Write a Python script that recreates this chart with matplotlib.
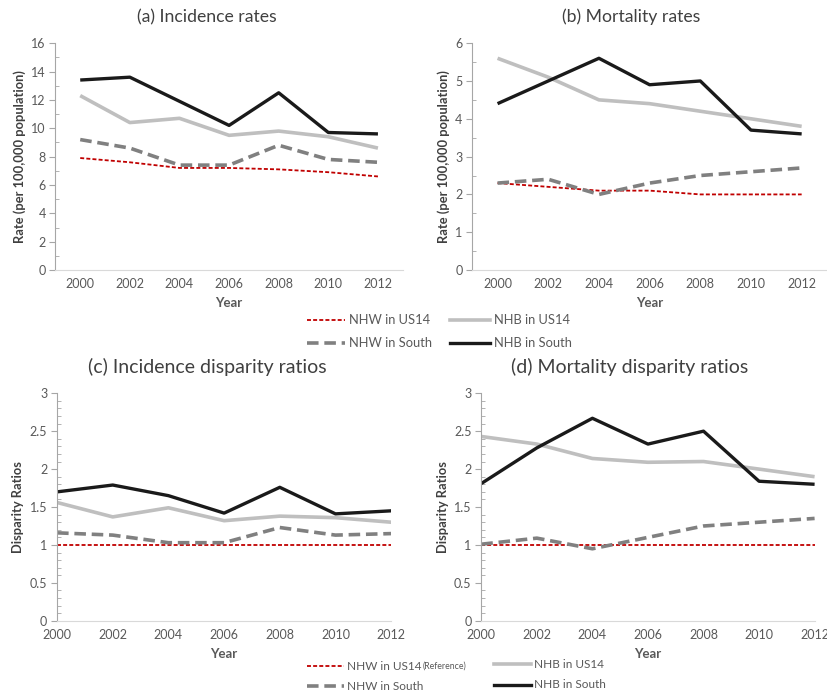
import numpy as np
import matplotlib.pyplot as plt
from matplotlib.lines import Line2D
from matplotlib.ticker import MultipleLocator

plt.rcParams['font.family'] = ['Lato', 'DejaVu Sans']

years = [2000, 2002, 2004, 2006, 2008, 2010, 2012]

# (a) incidence rates per 100,000
inc_nhw_us14 = [7.9, 7.6, 7.2, 7.2, 7.1, 6.9, 6.6]
inc_nhw_south = [9.2, 8.6, 7.4, 7.4, 8.8, 7.8, 7.6]
inc_nhb_us14 = [12.3, 10.4, 10.7, 9.5, 9.8, 9.4, 8.6]
inc_nhb_south = [13.4, 13.6, 11.9, 10.2, 12.5, 9.7, 9.6]

# (b) mortality rates per 100,000
mort_nhw_us14 = [2.3, 2.2, 2.1, 2.1, 2.0, 2.0, 2.0]
mort_nhw_south = [2.3, 2.4, 2.0, 2.3, 2.5, 2.6, 2.7]
mort_nhb_us14 = [5.6, 5.1, 4.5, 4.4, 4.2, 4.0, 3.8]
mort_nhb_south = [4.4, 5.0, 5.6, 4.9, 5.0, 3.7, 3.6]

# (c) incidence disparity ratios (NHW in US14 = reference)
idr_nhw_us14 = [1.0, 1.0, 1.0, 1.0, 1.0, 1.0, 1.0]
idr_nhw_south = [1.16, 1.13, 1.03, 1.03, 1.23, 1.13, 1.15]
idr_nhb_us14 = [1.56, 1.37, 1.49, 1.32, 1.38, 1.36, 1.30]
idr_nhb_south = [1.70, 1.79, 1.65, 1.42, 1.76, 1.41, 1.45]

# (d) mortality disparity ratios
mdr_nhw_us14 = [1.0, 1.0, 1.0, 1.0, 1.0, 1.0, 1.0]
mdr_nhw_south = [1.01, 1.09, 0.95, 1.10, 1.25, 1.30, 1.35]
mdr_nhb_us14 = [2.43, 2.33, 2.14, 2.09, 2.10, 2.00, 1.90]
mdr_nhb_south = [1.81, 2.28, 2.67, 2.33, 2.50, 1.84, 1.80]

RED = '#C00000'
DGRAY = '#808080'
LGRAY = '#BFBFBF'
BLACK = '#1a1a1a'
TXT = '#595959'

styles = [
    dict(color=RED, lw=1.3, ls=(0, (2.2, 1.2))),
    dict(color=DGRAY, lw=2.6, ls=(0, (3.2, 1.6))),
    dict(color=LGRAY, lw=2.6, ls='-'),
    dict(color=BLACK, lw=2.4, ls='-'),
]

W, H = 827, 696
fig = plt.figure(figsize=(W / 100, H / 100), dpi=100)


def panel(rect, title, title_xy, title_size, series, ymax, major, minor, ylabel, pad):
    ax = fig.add_axes(rect)
    for vals, st in zip(series, styles):
        ax.plot(years, vals, solid_capstyle='butt', dash_capstyle='butt', **st)
    ax.set_xlim(years[0] - pad, years[-1] + pad)
    ax.set_ylim(0, ymax)
    ax.set_xticks(years)
    ax.yaxis.set_major_locator(MultipleLocator(major))
    ax.yaxis.set_minor_locator(MultipleLocator(minor))
    ax.yaxis.set_major_formatter(lambda v, p: f'{v:g}')
    for s in ['top', 'right']:
        ax.spines[s].set_visible(False)
    ax.spines['left'].set_color('#A6A6A6')
    ax.spines['bottom'].set_color('#D9D9D9')
    ax.tick_params(axis='y', which='major', direction='out', length=4,
                   color='#A6A6A6', labelsize=9, labelcolor=TXT, pad=3)
    ax.tick_params(axis='y', which='minor', direction='in', length=3,
                   color='#A6A6A6')
    ax.tick_params(axis='x', length=0, labelsize=9, labelcolor=TXT, pad=6)
    ax.set_xlabel('Year', fontsize=9.5, fontweight='bold', color=TXT, labelpad=5)
    ax.set_ylabel(ylabel, fontsize=9.3, fontweight='bold', color='#404040', labelpad=4)
    fig.text(title_xy[0] / W, 1 - title_xy[1] / H, title, fontsize=title_size,
             color='#404040', ha='center', va='center')
    return ax


panel([0.067, 0.612, 0.42, 0.326], '(a) Incidence rates', (207, 17), 12.7,
      [inc_nhw_us14, inc_nhw_south, inc_nhb_us14, inc_nhb_south],
      16, 2, 1, 'Rate (per 100,000 population)', 1)
panel([0.571, 0.612, 0.429, 0.326], '(b) Mortality rates', (631, 17), 12.7,
      [mort_nhw_us14, mort_nhw_south, mort_nhb_us14, mort_nhb_south],
      6, 1, 0.5, 'Rate (per 100,000 population)', 1)
panel([0.069, 0.108, 0.404, 0.327], '(c) Incidence disparity ratios', (207, 367), 14,
      [idr_nhw_us14, idr_nhw_south, idr_nhb_us14, idr_nhb_south],
      3, 0.5, 0.1, 'Disparity Ratios', 0)
panel([0.582, 0.108, 0.403, 0.327], '(d) Mortality disparity ratios', (630, 367), 14,
      [mdr_nhw_us14, mdr_nhw_south, mdr_nhb_us14, mdr_nhb_south],
      3, 0.5, 0.1, 'Disparity Ratios', 0)


def legend_line(x0, x1, y, st):
    fig.add_artist(Line2D([x0 / W, x1 / W], [1 - y / H, 1 - y / H],
                          transform=fig.transFigure, **st))


# upper legend
for (x0, x1, y, label), st in zip(
        [(307, 345, 320, 'NHW in US14'), (307, 345, 343, 'NHW in South'),
         (450, 490, 320, 'NHB in US14'), (450, 490, 343, 'NHB in South')], styles):
    legend_line(x0, x1, y, st)
    fig.text((x1 + 4) / W, 1 - y / H, label, fontsize=9.3, color=TXT, va='center')

# lower legend
for (x0, x1, y, label), st in zip(
        [(307, 344, 666, 'NHW in US14'), (307, 344, 686, 'NHW in South'),
         (494, 531, 664, 'NHB in US14'), (494, 531, 685, 'NHB in South')], styles):
    legend_line(x0, x1, y, st)
    fig.text((x1 + 3) / W, 1 - y / H, label, fontsize=8.5, color=TXT, va='center')
fig.text(423 / W, 1 - 666 / H, '(Reference)', fontsize=6.3, color=TXT, va='center')

fig.savefig('out.png', dpi=100)
